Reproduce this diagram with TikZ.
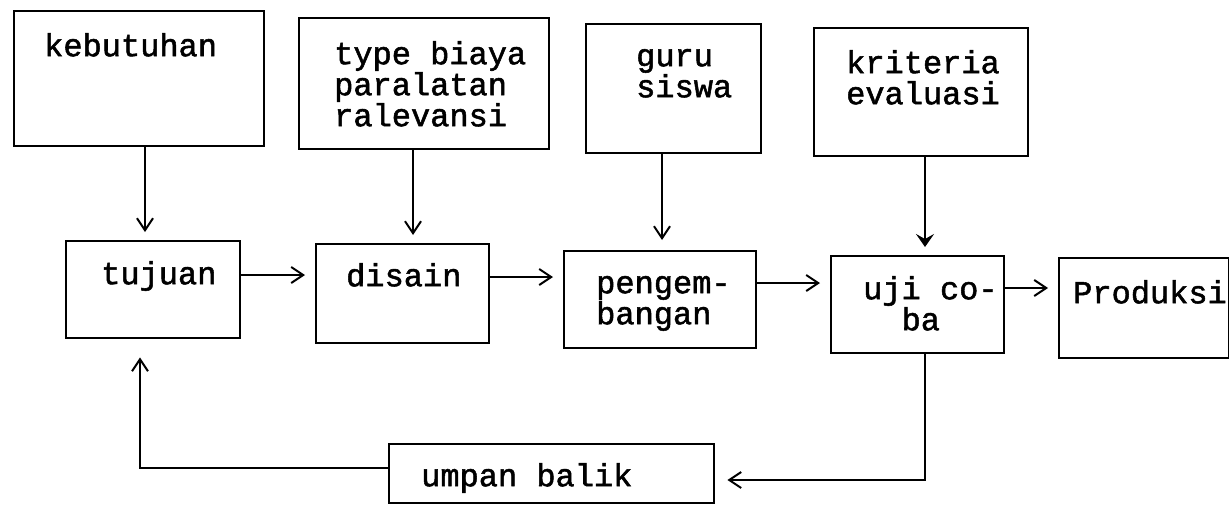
\documentclass[tikz,border=0pt]{standalone}
\usepackage{fontspec}
\usetikzlibrary{arrows.meta}
\newfontfamily\mono{Liberation Mono}[FakeBold=1.6]
\begin{document}
\begin{tikzpicture}[x=0.5pt, y=-0.5pt,
  blk/.style={draw, line width=1.2pt, anchor=north west, inner sep=0pt,
    align=left, font={\mono\fontsize{16pt}{15.5pt}\selectfont}},
  inset/.style={execute at begin node={\leftskip=#1\relax\spaceskip=0pt\relax
    \xspaceskip=0pt\relax\hyphenpenalty=10000\relax}},
  arr/.style={line width=1pt, -{Straight Barb[length=6pt, width=8pt, line width=1pt]}},
  heavy/.style={line width=1.3pt, -{Stealth[length=6.5pt, width=9pt, inset=2.5pt]}},
]
\fill[white] (0,0) rectangle (1229,505);
\useasboundingbox (0,0) rectangle (1229,505);

% input boxes along the top
\node[blk, minimum width=125pt, minimum height=67.5pt, text width=125pt,
      text height=22.5pt, text depth=45pt, inset=15pt] (keb) at (13,10) {kebutuhan};
\node[blk, minimum width=125pt, minimum height=65.5pt, text width=125pt,
      text height=23pt, text depth=42.5pt, inset=17.5pt] (typ) at (298,17)
      {type biaya\\paralatan\\ralevansi};
\node[blk, minimum width=87.5pt, minimum height=64.5pt, text width=87.5pt,
      text height=21pt, text depth=43.5pt, inset=25pt] (guru) at (585,23)
      {guru\\siswa};
\node[blk, minimum width=107pt, minimum height=64pt, text width=107pt,
      text height=22.5pt, text depth=41.5pt, inset=16pt] (krit) at (813,27)
      {kriteria\\evaluasi};

% main process chain
\node[blk, minimum width=87pt, minimum height=48.5pt, text width=87pt,
      text height=21.5pt, text depth=27pt, inset=17.5pt] (tuj) at (65,240) {tujuan};
\node[blk, minimum width=86.5pt, minimum height=49.5pt, text width=86.5pt,
      text height=21pt, text depth=28.5pt, inset=15pt] (dis) at (315,243) {disain};
\node[blk, minimum width=96pt, minimum height=48.5pt, text width=96pt,
      text height=21pt, text depth=27.5pt, inset=16pt] (peng) at (563,250)
      {pengem-\\bangan};
\node[blk, minimum width=86.5pt, minimum height=48.5pt, text width=86.5pt,
      text height=21.5pt, text depth=27pt, inset=16pt] (uji) at (830,255)
      {uji~co-\\\hphantom{uj}ba};
\node[blk, minimum width=85pt, minimum height=50pt, text width=85pt,
      text height=22.5pt, text depth=27.5pt, inset=7pt] (prod) at (1058,257) {Produksi};

% feedback box
\node[blk, minimum width=162.5pt, minimum height=29.5pt, text width=162.5pt,
      text height=21pt, text depth=8.5pt, inset=16pt] (ump) at (388,443) {umpan balik};

% inputs feeding down
\draw[arr, shorten >=4pt] (keb.south -| 145,0) -- (tuj.north -| 145,0);
\draw[arr, shorten >=4pt] (typ.south -| 413,0) -- (dis.north -| 413,0);
\draw[arr, shorten >=5pt] (guru.south -| 662,0) -- (peng.north -| 662,0);
\draw[heavy, shorten >=4pt] (krit.south -| 925,0) -- (uji.north -| 925,0);

% chain
\draw[arr, shorten >=5pt] (tuj.east |- 0,275) -- (dis.west |- 0,275);
\draw[arr, shorten >=5pt] (dis.east |- 0,277) -- (peng.west |- 0,277);
\draw[arr, shorten >=5pt] (peng.east |- 0,283) -- (uji.west |- 0,283);
\draw[arr, shorten >=5pt] (uji.east |- 0,288) -- (prod.west |- 0,288);

% feedback loop
\draw[arr, shorten >=6pt] (uji.south -| 925,0) |- (ump.east |- 0,480);
\draw[arr, shorten >=9pt] (ump.west |- 0,468) -| (tuj.south -| 140,0);
\end{tikzpicture}
\end{document}
